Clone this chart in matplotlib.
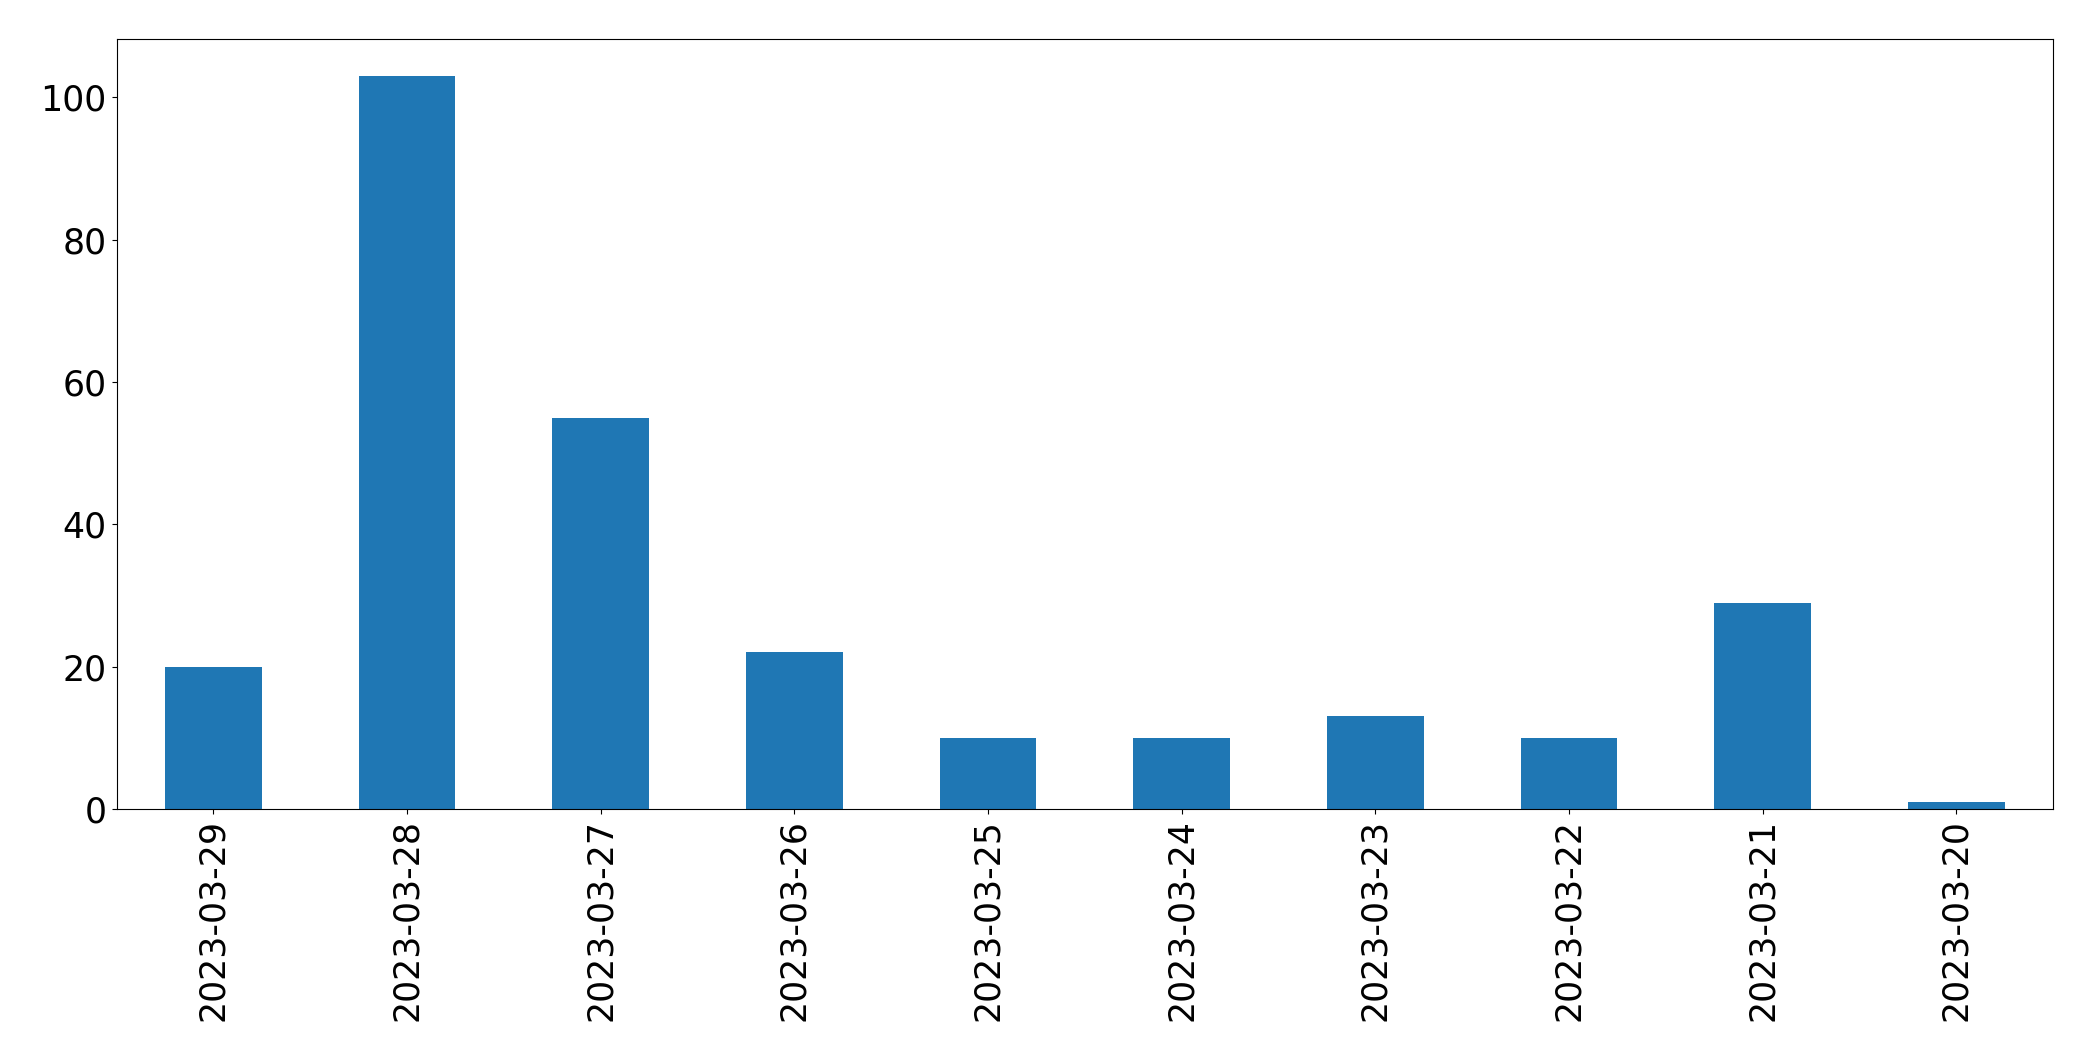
import matplotlib
matplotlib.use('Agg')
import matplotlib.pyplot as plt
import pandas as pd

dates = ['2023-03-29', '2023-03-28', '2023-03-27', '2023-03-26', '2023-03-25',
         '2023-03-24', '2023-03-23', '2023-03-22', '2023-03-21', '2023-03-20']
counts = [20, 103, 55, 22, 10, 10, 13, 10, 29, 1]

s = pd.Series(counts, index=dates)

fig = plt.figure(figsize=(20.93, 10.61), dpi=100)
ax = fig.add_axes([0.0557, 0.2375, 0.9252, 0.7255])
s.plot(kind='bar', ax=ax, fontsize=25, color='#1f77b4')

fig.savefig('out.png', dpi=100)
